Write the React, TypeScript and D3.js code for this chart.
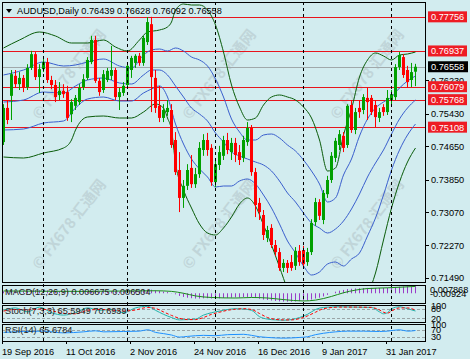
import React from "react";
import * as d3 from "d3";

// ---------- data ----------
// daily candles [open, high, low, close], bar 0 = 19 Sep 2016
const candles: [number, number, number, number][] = [
  [0.7475,0.7566,0.7468,0.7557],[0.7557,0.7576,0.7518,0.7528],[0.7586,0.7648,0.7528,0.7638],[0.7634,0.7648,0.7605,0.7614],
  [0.7614,0.7643,0.7600,0.7629],[0.7629,0.7636,0.7595,0.7607],[0.7607,0.7662,0.7600,0.7653],[0.7653,0.7694,0.7648,0.7686],
  [0.7686,0.7691,0.7624,0.7631],[0.7631,0.7662,0.7593,0.7650],[0.7650,0.7677,0.7643,0.7667],[0.7667,0.7677,0.7617,0.7624],
  [0.7624,0.7634,0.7602,0.7612],[0.7612,0.7624,0.7571,0.7583],[0.7588,0.7619,0.7576,0.7598],[0.7598,0.7614,0.7581,0.7590],
  [0.7595,0.7610,0.7526,0.7533],[0.7542,0.7578,0.7523,0.7571],[0.7562,0.7588,0.7552,0.7581],[0.7571,0.7614,0.7564,0.7605],
  [0.7607,0.7638,0.7600,0.7626],[0.7629,0.7679,0.7624,0.7672],[0.7667,0.7730,0.7662,0.7720],[0.7720,0.7730,0.7617,0.7622],
  [0.7622,0.7629,0.7586,0.7595],[0.7600,0.7648,0.7593,0.7638],[0.7624,0.7653,0.7619,0.7646],[0.7634,0.7706,0.7624,0.7648],
  [0.7648,0.7653,0.7576,0.7583],[0.7583,0.7605,0.7552,0.7595],[0.7593,0.7619,0.7586,0.7610],[0.7612,0.7665,0.7605,0.7658],
  [0.7648,0.7682,0.7629,0.7677],[0.7665,0.7686,0.7653,0.7682],[0.7682,0.7689,0.7658,0.7665],[0.7665,0.7730,0.7658,0.7725],
  [0.7715,0.7775,0.7708,0.7763],[0.7758,0.77756,0.7547,0.7631],[0.7629,0.7648,0.7545,0.7557],[0.7562,0.7610,0.7523,0.7533],
  [0.7533,0.7566,0.7523,0.7552],[0.7547,0.7576,0.7538,0.7557],[0.7552,0.7566,0.7461,0.7468],[0.7480,0.7499,0.7396,0.7403],
  [0.7408,0.7451,0.7307,0.7341],[0.7341,0.7384,0.7317,0.7370],[0.7370,0.7422,0.7360,0.7408],[0.7413,0.7444,0.7365,0.7374],
  [0.7374,0.7413,0.7365,0.7398],[0.7398,0.7475,0.7389,0.7461],[0.7456,0.7494,0.7442,0.7480],[0.7480,0.7497,0.7442,0.7456],
  [0.7461,0.7470,0.7370,0.7379],[0.7379,0.7432,0.7367,0.7422],[0.7420,0.7466,0.7408,0.7451],[0.7442,0.7490,0.7432,0.7480],
  [0.7480,0.7497,0.7446,0.7456],[0.7451,0.7485,0.7432,0.7473],[0.7473,0.7485,0.7427,0.7444],[0.7451,0.7468,0.7420,0.7432],
  [0.7437,0.7490,0.7427,0.7480],[0.7475,0.7523,0.7466,0.7509],[0.7509,0.7516,0.7394,0.7403],[0.7403,0.7413,0.7295,0.7324],
  [0.7329,0.7341,0.7288,0.7307],[0.7300,0.7312,0.7240,0.7252],[0.7245,0.7274,0.7235,0.7264],[0.7269,0.7278,0.7221,0.7228],
  [0.7228,0.7240,0.7202,0.7211],[0.7211,0.7221,0.7166,0.7173],[0.7173,0.7194,0.7163,0.7185],[0.7185,0.7192,0.7161,0.7173],
  [0.7187,0.7204,0.7166,0.7173],[0.7178,0.7223,0.7168,0.7214],[0.7214,0.7228,0.7178,0.7187],[0.7216,0.7226,0.7173,0.7182],
  [0.7187,0.7221,0.7178,0.7211],[0.7211,0.7290,0.7204,0.7281],[0.7283,0.7341,0.7274,0.7331],[0.7331,0.7338,0.7288,0.7298],
  [0.7288,0.7360,0.7278,0.7353],[0.7350,0.7394,0.7341,0.7384],[0.7384,0.7451,0.7377,0.7442],[0.7437,0.7485,0.7427,0.7478],
  [0.7468,0.7504,0.7456,0.7494],[0.7490,0.7499,0.7451,0.7461],[0.7468,0.7566,0.7461,0.7562],[0.7564,0.7576,0.7497,0.7504],
  [0.7504,0.7557,0.7494,0.7547],[0.7557,0.7576,0.7533,0.7547],[0.7552,0.7590,0.7542,0.7583],[0.7581,0.7605,0.7528,0.7571],
  [0.7581,0.7588,0.7540,0.7547],[0.7564,0.7576,0.7511,0.7535],[0.7533,0.7557,0.7523,0.7547],[0.7559,0.7566,0.7538,0.7547],
  [0.7547,0.7600,0.7540,0.7581],[0.7576,0.7600,0.7566,0.7590],[0.7583,0.7662,0.7576,0.7655],[0.7655,0.7691,0.7648,0.7684],
  [0.7679,0.7686,0.7629,0.7636],[0.7648,0.7658,0.7605,0.7619],[0.7624,0.7665,0.7607,0.7643],[0.76439,0.76628,0.76092,0.76558],
];

const xLabelBars = [0, 16, 32, 48, 64, 80, 96];
const xLabels = ["19 Sep 2016", "11 Oct 2016", "2 Nov 2016", "24 Nov 2016", "16 Dec 2016", "9 Jan 2017", "31 Jan 2017"];
const monthSeparatorBars = [10, 31, 53, 75, 97];

const redLevels = [0.77756, 0.76937, 0.76079, 0.75768, 0.75108];
const lastPrice = 0.76558;
const priceTicks = [0.7623, 0.7543, 0.7465, 0.7385, 0.7307, 0.7227, 0.7149];

// Bollinger bands as [bar, price]: green = outer bands, blue = inner bands + middle line
const greenUpper: [number, number][] = [
  [0,0.77008],[4,0.7720],[9,0.77392],[13,0.77296],[17,0.77128],[21,0.77128],[25,0.7720],[28,0.77032],[31,0.76936],[34,0.7720],
  [36,0.77392],[39,0.7744],[41,0.77512],[42,0.77632],[43,0.7792],[45,0.78064],[47,0.7804],[49,0.7804],[51,0.7792],[53,0.7756],
  [55,0.76912],[57,0.7612],[59,0.75592],[61,0.7528],[63,0.75328],[65,0.7564],[67,0.75832],[69,0.7588],[71,0.75832],[73,0.7576],
  [75,0.75592],[77,0.75328],[79,0.7480],[81,0.74056],[83,0.74128],[85,0.7492],[87,0.75544],[89,0.76312],[91,0.7672],[93,0.76888],
  [95,0.76816],[97,0.7672],[99,0.7684],[101,0.76864],[103,0.76912],
];
const greenLower: [number, number][] = [
  [0,0.74392],[5,0.74368],[10,0.74488],[15,0.74608],[17,0.7480],[18,0.7504],[21,0.75352],[25,0.75376],[29,0.75328],[32,0.75328],
  [35,0.75472],[38,0.75664],[40,0.75568],[41,0.75328],[42,0.7504],[43,0.74248],[45,0.7360],[47,0.73168],[49,0.72784],[51,0.72568],
  [53,0.7252],[55,0.72688],[57,0.72952],[59,0.73264],[61,0.73408],[63,0.73216],[65,0.7276],[67,0.7228],[69,0.71752],[71,0.71224],
  [73,0.70864],[75,0.7048],[77,0.70312],[79,0.70576],[81,0.7108],[83,0.7108],[85,0.70672],[87,0.70744],[89,0.70696],[91,0.7108],
  [93,0.71608],[95,0.7240],[97,0.73168],[99,0.73792],[101,0.74272],[103,0.74608],
];
const blueMiddle: [number, number][] = [
  [0,0.75712],[5,0.7576],[10,0.75952],[15,0.75928],[18,0.76096],[21,0.7624],[25,0.76288],[29,0.76168],[32,0.76144],[35,0.7636],
  [37,0.7648],[39,0.7648],[41,0.7636],[43,0.76096],[45,0.75832],[47,0.75568],[49,0.75424],[51,0.75256],[53,0.74968],[55,0.74752],
  [57,0.74512],[59,0.74416],[61,0.74344],[63,0.74272],[65,0.742],[67,0.74056],[69,0.73816],[71,0.73528],[73,0.73312],[75,0.73048],
  [77,0.72808],[79,0.72688],[81,0.72568],[83,0.72664],[85,0.72856],[87,0.73144],[89,0.73504],[91,0.73912],[93,0.74248],[95,0.7456],
  [97,0.74944],[99,0.75304],[101,0.75568],[103,0.7576],
];
const blueUpper: [number, number][] = [
  [0,0.7636],[5,0.7648],[10,0.76672],[15,0.76576],[18,0.766],[21,0.76672],[25,0.76744],[29,0.76576],[32,0.76528],[35,0.7684],
  [37,0.7696],[39,0.76984],[41,0.76936],[43,0.77008],[45,0.76936],[47,0.76792],[49,0.7672],[51,0.76576],[53,0.76264],[55,0.75832],
  [57,0.75304],[59,0.74992],[61,0.7480],[63,0.7480],[65,0.7492],[67,0.74944],[69,0.74848],[71,0.7468],[73,0.74536],[75,0.7432],
  [77,0.74056],[79,0.73744],[81,0.73312],[83,0.73408],[85,0.7396],[87,0.74344],[89,0.74896],[91,0.75304],[93,0.75568],[95,0.75712],
  [97,0.75832],[99,0.76048],[101,0.76216],[103,0.76336],
];
const blueLower: [number, number][] = [
  [0,0.7504],[5,0.75064],[10,0.75208],[15,0.75256],[18,0.75568],[21,0.75784],[25,0.75832],[29,0.75736],[32,0.75736],[35,0.75928],
  [37,0.76024],[39,0.76096],[41,0.75832],[43,0.75184],[45,0.74704],[47,0.74344],[49,0.74104],[51,0.73912],[53,0.73672],[55,0.73696],
  [57,0.73696],[59,0.73816],[61,0.73864],[63,0.73744],[65,0.7348],[67,0.73168],[69,0.72784],[71,0.72376],[73,0.72088],[75,0.71776],
  [77,0.7156],[79,0.71632],[81,0.71824],[83,0.71872],[85,0.71776],[87,0.71944],[89,0.72088],[91,0.72496],[93,0.72928],[95,0.7348],
  [97,0.7408],[99,0.7456],[101,0.7492],[103,0.75184],
];

// MACD(12,26,9) main (histogram), one value per bar
const macdMain = [
  0.0018,0.0017,0.0020,0.0022,0.0024,0.0024,0.0026,0.0030,0.0029,0.0029,
  0.0030,0.0028,0.0025,0.0020,0.0017,0.0015,0.0010,0.0008,0.0008,0.0009,
  0.0011,0.0015,0.0021,0.0020,0.0018,0.0019,0.0020,0.0021,0.0018,0.0016,
  0.0016,0.0019,0.0022,0.0025,0.0026,0.0030,0.0036,0.0034,0.0028,0.0021,
  0.0016,0.0011,0.0002,-0.0010,-0.0025,-0.0035,-0.0042,-0.0047,-0.0050,-0.0050,
  -0.0048,-0.0047,-0.0050,-0.0050,-0.0048,-0.0045,-0.0043,-0.0041,-0.0040,-0.0040,
  -0.0038,-0.0035,-0.0038,-0.0045,-0.0052,-0.0060,-0.0064,-0.0069,-0.0073,-0.0077,
  -0.0079,-0.0080,-0.0080,-0.0078,-0.0075,-0.0070,-0.0068,-0.0060,-0.0050,-0.0042,
  -0.0030,-0.0015,0.0000,0.0015,0.0025,0.0032,0.0040,0.0043,0.0046,0.0048,
  0.0050,0.0051,0.0051,0.0050,0.0050,0.0050,0.0052,0.0054,0.0058,0.0062,
  0.0064,0.0065,0.0066,0.006675,
];
const macdSignal: [number, number][] = [
  [0,0.0022],[20,0.0018],[38,0.0024],[42,0.0018],[45,0.0000],[48,-0.0025],[52,-0.0040],[58,-0.0045],[62,-0.0040],
  [66,-0.0045],[70,-0.0060],[75,-0.0073],[78,-0.0065],[82,-0.0030],[85,0.0005],[88,0.0030],[91,0.0045],[96,0.0052],[103,0.006504],
];
const stochMain: [number, number][] = [
  [0,70],[3,85],[6,60],[9,90],[12,55],[15,40],[18,55],[21,85],[24,70],[27,75],[30,55],[33,85],[36,95],[38,70],[40,45],
  [42,25],[44,10],[46,12],[48,15],[50,40],[52,55],[54,65],[56,75],[58,80],[60,78],[62,70],[64,30],[66,15],[68,10],[70,8],
  [72,12],[74,25],[76,45],[78,75],[80,88],[84,92],[88,90],[92,88],[94,60],[95,48],[96,55],[97,80],[99,92],[101,80],[103,65.5949],
];
const stochSignal: [number, number][] = [
  [0,65],[3,75],[6,72],[9,78],[12,68],[15,50],[18,48],[21,70],[24,75],[27,72],[30,65],[33,72],[36,88],[38,82],[40,60],
  [42,38],[44,20],[46,12],[48,12],[50,25],[52,45],[54,58],[56,70],[58,77],[60,80],[62,75],[64,50],[66,25],[68,13],[70,10],
  [72,10],[74,18],[76,35],[78,58],[80,80],[84,90],[88,90],[92,88],[94,72],[95,58],[96,52],[97,65],[99,85],[101,85],[103,70.6939],
];
const rsiValues: [number, number][] = [
  [0,55],[5,60],[10,62],[15,52],[20,58],[23,64],[25,58],[30,60],[34,62],[36,70],[38,55],[40,48],[42,40],[44,28],[46,32],
  [50,38],[53,36],[56,42],[60,44],[62,38],[64,30],[66,26],[70,22],[74,26],[76,30],[78,42],[80,50],[83,58],[86,62],[90,62],
  [94,60],[96,62],[99,70],[101,62],[103,65.6784],
];
const watermarkSpots: [number, number][] = [[70,75],[220,75],[368,75],[70,225],[220,225],[368,225]];

// ---------- layout ----------
const BG = "#d2ecef";
const FONT = "'Liberation Sans', Arial, sans-serif";
const L = 2, R = 426;
const MAIN = { t: 2, b: 282 };
const MACD = { t: 285, b: 303 };
const STO = { t: 305, b: 322 };
const RSIP = { t: 324, b: 341 };
const UP = "#00a000";
const DOWN = "#ff0000";

export default function App() {
  const x = d3.scaleLinear().domain([0, 103]).range([3, 415]);
  const y = d3.scaleLinear().domain([0.71392, 0.78112]).range([MAIN.b, MAIN.t]);
  const yM = d3.scaleLinear().domain([-0.00924, 0.007868]).range([MACD.b, MACD.t]);
  const yS = d3.scaleLinear().domain([0, 100]).range([STO.b - 0.5, STO.t + 0.5]);
  const yR = d3.scaleLinear().domain([0, 100]).range([RSIP.b + 1, RSIP.t + 0.5]);

  const mk = (ys: d3.ScaleLinear<number, number>) =>
    d3.line<[number, number]>().x((d) => x(d[0]) + 0.5).y((d) => ys(d[1])).curve(d3.curveMonotoneX);
  const lineMain = mk(y);
  const lineM = mk(yM);
  const lineS = mk(yS);
  const lineR = mk(yR);

  const txt = { fontFamily: FONT, fontSize: 9.2 } as const;

  return (
    <svg width={470} height={359} style={{ position: "absolute", left: 0, top: 0 }}>
      <defs>
        <clipPath id="cpMain"><rect x={L} y={MAIN.t} width={R - L} height={MAIN.b - MAIN.t} /></clipPath>
        <clipPath id="cpMacd"><rect x={L} y={MACD.t} width={R - L} height={MACD.b - MACD.t} /></clipPath>
        <clipPath id="cpSto"><rect x={L} y={STO.t} width={R - L} height={STO.b - STO.t} /></clipPath>
        <clipPath id="cpRsi"><rect x={L} y={RSIP.t} width={R - L} height={RSIP.b - RSIP.t} /></clipPath>
      </defs>
      <rect x={0} y={0} width={470} height={359} fill={BG} />

      {/* watermarks */}
      {watermarkSpots.map(([wx, wy], i) => (
        <text key={"wm" + i} x={wx} y={wy} transform={`rotate(-52 ${wx} ${wy})`} textAnchor="middle"
          dominantBaseline="middle" fontFamily="'Noto Sans CJK SC', 'Liberation Sans', sans-serif" fontWeight="bold"
          fontSize={15} fill="#b3c4c8" opacity={0.55}>© FX678 汇通网</text>
      ))}

      {/* main panel */}
      <g clipPath="url(#cpMain)">
        {redLevels.map((p, i) => (
          <line key={"rl" + i} x1={L} x2={R} y1={Math.round(y(p)) + 0.5} y2={Math.round(y(p)) + 0.5} stroke="#e8141c" strokeWidth={1} />
        ))}
        <line x1={L} x2={R} y1={Math.round(y(lastPrice)) + 0.5} y2={Math.round(y(lastPrice)) + 0.5} stroke="#a0a8aa" strokeWidth={1} />
        <path d={lineMain(greenUpper) ?? ""} fill="none" stroke="#0a5c0a" strokeWidth={1} />
        <path d={lineMain(greenLower) ?? ""} fill="none" stroke="#0a5c0a" strokeWidth={1} />
        <path d={lineMain(blueUpper) ?? ""} fill="none" stroke="#3a5fcd" strokeWidth={1} />
        <path d={lineMain(blueMiddle) ?? ""} fill="none" stroke="#3a5fcd" strokeWidth={1} />
        <path d={lineMain(blueLower) ?? ""} fill="none" stroke="#3a5fcd" strokeWidth={1} />
        {candles.map(([o, h, l, c], i) => {
          const cx = Math.round(x(i));
          const col = c >= o ? UP : DOWN;
          const top = Math.min(y(o), y(c));
          const hgt = Math.max(1, Math.abs(y(o) - y(c)));
          return (
            <g key={"c" + i}>
              <line x1={cx + 0.5} x2={cx + 0.5} y1={y(h)} y2={y(l)} stroke={col} strokeWidth={1} />
              <rect x={cx - 1} y={top} width={3} height={hgt} fill={col} />
            </g>
          );
        })}
      </g>

      {/* MACD */}
      <g clipPath="url(#cpMacd)">
        {macdMain.map((v, i) => (
          <line key={"mh" + i} x1={Math.round(x(i)) + 0.5} x2={Math.round(x(i)) + 0.5} y1={yM(0)} y2={yM(v)} stroke="#9a3cc8" strokeWidth={1} />
        ))}
        <path d={lineM(macdSignal) ?? ""} fill="none" stroke="#1a8a1a" strokeWidth={1} />
      </g>
      {/* Stoch */}
      <g clipPath="url(#cpSto)">
        {[80, 20].map((lv) => (
          <line key={"sl" + lv} x1={L} x2={R} y1={Math.round(yS(lv)) + 0.5} y2={Math.round(yS(lv)) + 0.5} stroke="#9aa4a6" strokeDasharray="3,2" />
        ))}
        <path d={lineS(stochMain) ?? ""} fill="none" stroke="#20b2aa" strokeWidth={1} />
        <path d={lineS(stochSignal) ?? ""} fill="none" stroke="#ff0000" strokeWidth={1} strokeDasharray="3,2" />
      </g>
      {/* RSI */}
      <g clipPath="url(#cpRsi)">
        {[70, 30].map((lv) => (
          <line key={"rsl" + lv} x1={L} x2={R} y1={Math.round(yR(lv)) + 0.5} y2={Math.round(yR(lv)) + 0.5} stroke="#9aa4a6" strokeDasharray="3,2" />
        ))}
        <path d={lineR(rsiValues) ?? ""} fill="none" stroke="#1e90ff" strokeWidth={1} />
      </g>

      {/* month separators */}
      {monthSeparatorBars.map((b) => (
        <line key={"ms" + b} x1={Math.round(x(b)) + 0.5} x2={Math.round(x(b)) + 0.5} y1={MAIN.t} y2={RSIP.b}
          stroke="#000" strokeDasharray="3,3" strokeWidth={1} />
      ))}

      {/* panel frames */}
      {[MAIN, MACD, STO, RSIP].map((p, i) => (
        <rect key={"fr" + i} x={L + 0.5} y={p.t + 0.5} width={R - L - 1} height={p.b - p.t} fill="none" stroke="#000" strokeWidth={1} />
      ))}

      {/* header */}
      <path d="M6,9 L12,9 L9,13 Z" fill="#000" />
      <text x={17} y={14} style={txt} fontSize={9.3} fill="#000">AUDUSD,Daily 0.76439 0.76628 0.76092 0.76558</text>

      {/* price axis */}
      {priceTicks.map((p, i) => (
        <g key={"pt" + i}>
          <line x1={R} x2={R + 3} y1={Math.round(y(p)) + 0.5} y2={Math.round(y(p)) + 0.5} stroke="#000" />
          <text x={431} y={y(p) + 3.5} style={txt} fill="#000">{p.toFixed(5)}</text>
        </g>
      ))}
      {redLevels.map((p, i) => (
        <g key={"rb" + i}>
          <rect x={428} y={y(p) - 5.5} width={39} height={11} fill="#ee1c24" />
          <text x={431} y={y(p) + 3.5} style={txt} fill="#fff">{p.toFixed(5)}</text>
        </g>
      ))}
      <rect x={428} y={y(lastPrice) - 5.5} width={40} height={11} fill="#000" />
      <text x={431} y={y(lastPrice) + 3.5} style={txt} fill="#fff">{lastPrice.toFixed(5)}</text>

      {/* sub-panel axis labels */}
      <text x={430} y={292.5} style={txt} fill="#000">0.007868</text>
      <text x={430} y={297} style={txt} fill="#000">-0.00924</text>
      <text x={431} y={yS(100) + 3.5} style={txt} fill="#000">100</text>
      <text x={431} y={yS(80) + 3.5} style={txt} fill="#000">80</text>
      <text x={431} y={yS(20) + 3.5} style={txt} fill="#000">20</text>
      <text x={431} y={yR(100) + 3.5} style={txt} fill="#000">100</text>
      <text x={431} y={yR(70) + 3.5} style={txt} fill="#000">70</text>
      <text x={431} y={yR(30) + 3.5} style={txt} fill="#000">30</text>

      {/* sub-panel titles */}
      <text x={5} y={294.5} style={txt} fill="#222">MACD(12,26,9) 0.006675 0.006504</text>
      <text x={5} y={314} style={txt} fill="#222">Stoch(7,3,3) 65.5949 70.6939</text>
      <text x={5} y={333} style={txt} fill="#222">RSI(14) 65.6784</text>

      {/* time axis */}
      {xLabelBars.map((b, i) => (
        <g key={"xl" + i}>
          <line x1={Math.round(x(b)) - 0.5} x2={Math.round(x(b)) - 0.5} y1={RSIP.b} y2={RSIP.b + 3} stroke="#000" />
          <text x={Math.round(x(b)) - 1} y={355} style={txt} fill="#000">{xLabels[i]}</text>
        </g>
      ))}
    </svg>
  );
}
